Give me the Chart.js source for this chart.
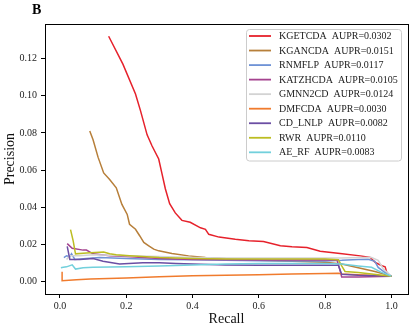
<!DOCTYPE html>
<html>
<head>
<meta charset="utf-8">
<script src="https://cdn.jsdelivr.net/npm/chart.js@4.4.1/dist/chart.umd.min.js"></script>
<style>
    body { margin: 0; background: #fff; }
    #wrap { width: 415px; height: 329px; }
</style>
</head>
<body>
<div id="wrap"><canvas id="pr" width="415" height="329"></canvas></div>
<script>
// method names as in the legend
const methods = ['KGETCDA', 'KGANCDA', 'RNMFLP', 'KATZHCDA', 'GMNN2CD', 'DMFCDA', 'CD_LNLP', 'RWR', 'AE_RF'];
const aupr = ['0.0302', '0.0151', '0.0117', '0.0105', '0.0124', '0.0030', '0.0082', '0.0110', '0.0083'];

// [recall, precision]
const kgetcda = [[0.147,0.132],[0.19,0.117],[0.228,0.101],[0.243,0.092],[0.263,0.079],[0.278,0.073],[0.298,0.066],
    [0.308,0.058],[0.318,0.050],[0.331,0.042],[0.348,0.037],[0.368,0.033],[0.393,0.032],[0.424,0.029],[0.439,0.0282],
    [0.449,0.0255],[0.48,0.024],[0.529,0.0228],[0.57,0.022],[0.614,0.0216],[0.665,0.0193],[0.70,0.0188],[0.745,0.0184],
    [0.785,0.0164],[0.845,0.0152],[0.906,0.0139],[0.936,0.013],[0.951,0.0104],[0.971,0.0086],[0.981,0.008],[0.986,0.005],
    [0.996,0.0032],[1.0,0.003]];
const kgancda = [[0.090,0.081],[0.1,0.0763],[0.115,0.067],[0.132,0.0585],[0.15,0.055],[0.17,0.0505],[0.187,0.0416],
    [0.203,0.0362],[0.21,0.0309],[0.228,0.0282],[0.241,0.0246],[0.253,0.0211],[0.268,0.0193],[0.283,0.0175],[0.298,0.0166],
    [0.338,0.0152],[0.388,0.0139],[0.439,0.013],[0.529,0.0121],[0.6,0.0115],[0.7,0.011],[0.8,0.0105],[0.85,0.0095],
    [0.9,0.0075],[0.95,0.0055],[1.0,0.003]];
const rnmflp = [[0.012,0.013],[0.02,0.014],[0.03,0.0135],[0.035,0.015],[0.045,0.012],[0.08,0.0125],[0.12,0.013],[0.2,0.0125],
    [0.3,0.012],[0.4,0.0118],[0.5,0.0115],[0.6,0.0113],[0.7,0.0112],[0.8,0.0112],[0.85,0.0115],[0.9,0.012],[0.93,0.0121],
    [0.95,0.011],[0.96,0.0077],[0.98,0.005],[1.0,0.003]];
const katzhcda = [[0.022,0.0205],[0.037,0.018],[0.07,0.017],[0.08,0.017],[0.1,0.015],[0.15,0.014],[0.2,0.0135],[0.3,0.0125],
    [0.4,0.012],[0.5,0.0118],[0.6,0.0117],[0.7,0.0117],[0.8,0.0117],[0.836,0.0117],[0.845,0.006],[0.85,0.0026],[0.9,0.0025],
    [1.0,0.003]];
const gmnn2cd = [[0.02,0.012],[0.03,0.014],[0.06,0.014],[0.1,0.0145],[0.2,0.014],[0.3,0.0135],[0.4,0.013],[0.5,0.0128],
    [0.6,0.0128],[0.7,0.0127],[0.8,0.0127],[0.85,0.0128],[0.9,0.013],[0.94,0.013],[0.96,0.0115],[0.975,0.007],[1.0,0.003]];
const dmfcda = [[0.0066,0.0053],[0.0066,0.0005],[0.05,0.001],[0.092,0.0014],[0.2,0.002],[0.3,0.0027],[0.4,0.0032],
    [0.5,0.0035],[0.6,0.0038],[0.7,0.0041],[0.8,0.0044],[0.84,0.0045],[0.85,0.0042],[0.9,0.0038],[0.95,0.0034],[1.0,0.003]];
const cdLnlp = [[0.022,0.019],[0.03,0.012],[0.06,0.012],[0.1,0.0125],[0.13,0.011],[0.18,0.0095],[0.25,0.0102],[0.3,0.0102],
    [0.35,0.0098],[0.4,0.0095],[0.5,0.009],[0.6,0.0088],[0.7,0.0088],[0.8,0.0088],[0.84,0.0088],[0.85,0.004],[0.9,0.0035],
    [1.0,0.003]];
const rwr = [[0.032,0.028],[0.04,0.022],[0.047,0.015],[0.08,0.0155],[0.132,0.016],[0.15,0.015],[0.17,0.0145],[0.21,0.014],
    [0.3,0.013],[0.4,0.0125],[0.5,0.0122],[0.6,0.0122],[0.7,0.0122],[0.8,0.0122],[0.84,0.0118],[0.85,0.0085],[0.86,0.0055],
    [0.9,0.005],[1.0,0.003]];
const aeRf = [[0.003,0.0075],[0.01,0.0078],[0.02,0.008],[0.037,0.0091],[0.047,0.0068],[0.07,0.0075],[0.1,0.0078],[0.2,0.008],
    [0.3,0.0085],[0.4,0.009],[0.5,0.0095],[0.6,0.0098],[0.7,0.0098],[0.8,0.0098],[0.85,0.0095],[0.9,0.0085],[0.94,0.0078],
    [0.97,0.005],[1.0,0.003]];

const xTicks = [0.0, 0.2, 0.4, 0.6, 0.8, 1.0];
const yTicks = [0.00, 0.02, 0.04, 0.06, 0.08, 0.10, 0.12];

const curves = [kgetcda, kgancda, rnmflp, katzhcda, gmnn2cd, dmfcda, cdLnlp, rwr, aeRf];
const colours = ['#e6212b', '#b77f3a', '#6f93d6', '#a5438f', '#d3d3d3', '#f07b2d', '#6b4ea3', '#bcbd22', '#72d0dc'];

const serif = '"Liberation Serif", "DejaVu Serif", serif';

var datasets = [];
for (let i = 0; i < methods.length; i++) {
    datasets.push({
        label: methods[i] + '  AUPR=' + aupr[i],
        data: curves[i].map(p => ({x: p[0], y: p[1]})),
        borderColor: colours[i],
        borderWidth: 1.5,
        pointRadius: 0,
        tension: 0,
        fill: false,
        order: methods.length - i   // later series on top, like matplotlib
    });
}

// frame, panel letter and the boxed legend
const decor = {
    id: 'decor',
    afterDraw(chart) {
        const ctx = chart.ctx;
        const a = chart.chartArea;
        ctx.save();
        ctx.strokeStyle = '#000';
        ctx.lineWidth = 1;
        ctx.strokeRect(Math.round(a.left) + 0.5, Math.round(a.top) + 0.5,
            Math.round(a.right - a.left), Math.round(a.bottom - a.top));

        ctx.fillStyle = '#000';
        ctx.font = 'bold 14px ' + serif;
        ctx.textBaseline = 'alphabetic';
        ctx.fillText('B', 32, 13.5);

        // legend box
        const bx = 246.5, by = 29.5, bw = 155, bh = 131.5, r = 3;
        ctx.beginPath();
        ctx.moveTo(bx + r, by);
        ctx.arcTo(bx + bw, by, bx + bw, by + bh, r);
        ctx.arcTo(bx + bw, by + bh, bx, by + bh, r);
        ctx.arcTo(bx, by + bh, bx, by, r);
        ctx.arcTo(bx, by, bx + bw, by, r);
        ctx.closePath();
        ctx.fillStyle = 'rgba(255,255,255,0.8)';
        ctx.fill();
        ctx.strokeStyle = '#cccccc';
        ctx.stroke();

        ctx.font = '10px ' + serif;
        ctx.textBaseline = 'middle';
        chart.data.datasets.forEach(function (ds, i) {
            const yy = 36 + i * 14.54;
            ctx.strokeStyle = ds.borderColor;
            ctx.lineWidth = 1.8;
            ctx.beginPath();
            ctx.moveTo(249, yy);
            ctx.lineTo(271, yy);
            ctx.stroke();
            ctx.fillStyle = '#222';
            ctx.fillText(ds.label, 279, yy + 0.5);
        });
        ctx.restore();
    }
};

const ctx = document.getElementById('pr').getContext('2d');
new Chart(ctx, {
    type: 'line',
    data: {datasets: datasets},
    plugins: [decor],
    options: {
        responsive: false,
        animation: false,
        layout: {padding: {top: 24, right: 7, left: 0, bottom: 0}},
        plugins: {legend: {display: false}, tooltip: {enabled: false}},
        scales: {
            x: {
                type: 'linear',
                min: -0.045,
                max: 1.05,
                afterBuildTicks: function (scale) { scale.ticks = xTicks.map(v => ({value: v})); },
                afterFit: function (scale) { scale.height = 35; },
                grid: {drawOnChartArea: false, drawTicks: true, tickLength: 4, tickColor: '#000', tickWidth: 1},
                border: {display: true, color: '#000', width: 1},
                ticks: {
                    color: '#222', padding: 2, maxRotation: 0,
                    font: {family: serif, size: 10},
                    callback: v => v.toFixed(1)
                },
                title: {display: true, text: 'Recall', color: '#111', font: {family: serif, size: 14}, padding: {top: 0, bottom: 1}}
            },
            y: {
                type: 'linear',
                min: -0.0066,
                max: 0.1386,
                afterBuildTicks: function (scale) { scale.ticks = yTicks.map(v => ({value: v})); },
                afterFit: function (scale) { scale.width = 45; },
                grid: {drawOnChartArea: false, drawTicks: true, tickLength: 4, tickColor: '#000', tickWidth: 1},
                border: {display: true, color: '#000', width: 1},
                ticks: {
                    color: '#222', padding: 4,
                    font: {family: serif, size: 10},
                    callback: v => v.toFixed(2)
                },
                title: {display: true, text: 'Precision', color: '#111', font: {family: serif, size: 14}, padding: {top: 2, bottom: 0}}
            }
        }
    }
});
</script>
</body>
</html>
